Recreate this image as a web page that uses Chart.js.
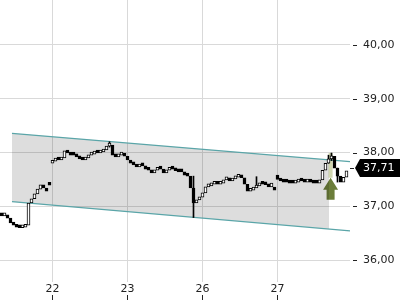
<!DOCTYPE html>
<html>
<head>
<meta charset="utf-8">
<script src="https://cdn.jsdelivr.net/npm/chart.js@4.4.0/dist/chart.umd.min.js"></script>
<style>
html,body{margin:0;padding:0;background:#fff}
</style>
</head>
<body>
<canvas id="chart" width="400" height="300"></canvas>
<script>
// day ticks (candle index where each day starts)
const dayLabels = ['22', '23', '26', '27']
const dayStart = [17, 42, 67, 92]
const yTicks = [36, 37, 38, 39, 40]

// candle opens / closes, one entry per candle (21st afternoon -> 27th)
const opens = [
  36.86, 36.82, 36.84, 36.78, 36.69, 36.65, 36.61, 36.60, 36.61, 36.65, 37.06, 37.14, 37.23, 37.32, 37.40, 37.34, 37.39,
  37.80, 37.84, 37.86, 37.86, 37.90, 38.03, 37.99, 37.95, 37.95, 37.92, 37.88, 37.86, 37.90, 37.95, 37.97, 37.99, 37.99, 38.01, 38.05, 38.12, 38.14, 37.95, 37.92, 37.95, 37.99,
  37.93, 37.86, 37.80, 37.77, 37.73, 37.75, 37.75, 37.69, 37.67, 37.62, 37.67, 37.71, 37.69, 37.62, 37.67, 37.69, 37.69, 37.66, 37.64, 37.64, 37.58, 37.56, 37.34, 37.06, 37.12,
  37.17, 37.25, 37.36, 37.38, 37.41, 37.45, 37.41, 37.43, 37.49, 37.53, 37.47, 37.51, 37.54, 37.56, 37.53, 37.41, 37.28, 37.30, 37.34, 37.38, 37.41, 37.41, 37.40, 37.36, 37.30,
  37.58, 37.50, 37.47, 37.45, 37.45, 37.43, 37.43, 37.45, 37.49, 37.47, 37.45, 37.47, 37.45, 37.43, 37.43, 37.49, 37.67, 37.80, 37.88, 37.93, 37.71, 37.56, 37.45, 37.54
]
const closes = [
  36.82, 36.84, 36.78, 36.69, 36.65, 36.61, 36.60, 36.61, 36.65, 37.06, 37.14, 37.23, 37.32, 37.40, 37.34, 37.28, 37.39,
  37.84, 37.86, 37.86, 37.90, 38.03, 37.99, 37.95, 37.95, 37.92, 37.88, 37.86, 37.90, 37.95, 37.97, 37.99, 37.99, 38.01, 38.05, 38.12, 38.14, 37.95, 37.92, 37.95, 37.99, 37.93,
  37.86, 37.80, 37.77, 37.73, 37.75, 37.75, 37.69, 37.67, 37.62, 37.67, 37.71, 37.69, 37.62, 37.67, 37.69, 37.69, 37.66, 37.64, 37.64, 37.58, 37.56, 37.34, 37.06, 37.12, 37.17,
  37.25, 37.36, 37.38, 37.41, 37.45, 37.41, 37.43, 37.49, 37.53, 37.47, 37.51, 37.54, 37.56, 37.53, 37.41, 37.28, 37.30, 37.34, 37.38, 37.41, 37.41, 37.40, 37.36, 37.43, 37.30,
  37.50, 37.47, 37.45, 37.45, 37.43, 37.43, 37.45, 37.49, 37.47, 37.45, 37.47, 37.45, 37.43, 37.43, 37.49, 37.67, 37.80, 37.88, 37.93, 37.71, 37.56, 37.45, 37.54, 37.66
]
// the visible wicks only
const wickIdx = [36, 64, 85, 109, 110, 112]
const wickLow = [38.10, 36.79, 37.36, 37.80, 37.85, 37.45]
const wickHigh = [38.20, 37.56, 37.55, 37.95, 37.99, 37.71]

// trend channel
const channelX = [3.5, 116.17]
const channelTop = [38.357, 37.831]
const channelBottom = [37.085, 36.543]
const shadeX = [3.5, 109.17]
const shadeTop = [38.357, 37.864]
const shadeBottom = [37.085, 36.577]

const lastPrice = 37.71
const arrowX = 109.7
const arrowTop = 37.53
const arrowBottom = 37.12
const arrowHighlightTop = 37.99

const pts = (xs, ys) => xs.map((x, k) => ({ x: x, y: ys[k] }))
const fmt = v => v.toFixed(2).replace('.', ',')
const FONT = 'DejaVu Sans'

const extras = {
  id: 'extras',
  beforeDatasetsDraw(chart) {
    const c = chart.ctx, xs = chart.scales.x, ys = chart.scales.y
    const cx = xs.getPixelForValue(arrowX)
    const tip = ys.getPixelForValue(arrowTop)
    const base = ys.getPixelForValue(arrowBottom)
    c.save()
    c.fillStyle = 'rgba(150,165,80,0.45)'
    const hy = ys.getPixelForValue(arrowHighlightTop)
    c.fillRect(cx - 2, hy, 4, tip - hy)
    c.fillStyle = '#6b7d3a'
    c.beginPath()
    c.moveTo(cx, tip)
    c.lineTo(cx + 7.5, tip + 12)
    c.lineTo(cx + 4, tip + 12)
    c.lineTo(cx + 4, base)
    c.lineTo(cx - 4, base)
    c.lineTo(cx - 4, tip + 12)
    c.lineTo(cx - 7.5, tip + 12)
    c.closePath()
    c.fill()
    c.restore()
  },
  afterDraw(chart) {
    const c = chart.ctx, xs = chart.scales.x, ys = chart.scales.y, area = chart.chartArea
    c.save()
    c.strokeStyle = '#222'
    c.lineWidth = 1
    yTicks.forEach(v => {
      const y = Math.round(ys.getPixelForValue(v)) + 0.5
      c.beginPath(); c.moveTo(area.right + 3, y); c.lineTo(area.right + 7, y); c.stroke()
    })
    dayStart.forEach(i => {
      const x = Math.round(xs.getPixelForValue(i)) + 0.5
      c.beginPath(); c.moveTo(x, chart.height - 5); c.lineTo(x, chart.height); c.stroke()
    })
    // last price tag
    const y = ys.getPixelForValue(lastPrice)
    const yy = Math.round(y) + 0.5
    c.beginPath(); c.moveTo(area.right, yy); c.lineTo(area.right + 4, yy); c.stroke()
    c.fillStyle = '#000'
    c.beginPath()
    c.moveTo(area.right + 5, y)
    c.lineTo(area.right + 10, y - 9)
    c.lineTo(chart.width, y - 9)
    c.lineTo(chart.width, y + 9)
    c.lineTo(area.right + 10, y + 9)
    c.closePath()
    c.fill()
    c.fillStyle = '#fff'
    c.font = '11px "' + FONT + '"'
    c.textAlign = 'left'
    c.textBaseline = 'middle'
    c.fillText(fmt(lastPrice), area.right + 13, y + 0.5)
    c.restore()
  }
}

const ctx = document.getElementById('chart').getContext('2d')
const myChart = new Chart(ctx, {
  type: 'bar',
  data: {
    datasets: [{
      type: 'bar',
      data: closes.map((c, i) => ({ x: i, y: [opens[i], c] })),
      backgroundColor: cx => closes[cx.dataIndex] > opens[cx.dataIndex] ? '#fff' : '#000',
      borderColor: '#000',
      borderWidth: 1,
      borderSkipped: false,
      barThickness: 3,
      minBarLength: 3,
      grouped: false,
      order: 0
    }, {
      type: 'bar',
      data: wickIdx.map((x, k) => ({ x: x, y: [wickLow[k], wickHigh[k]] })),
      backgroundColor: '#000',
      borderWidth: 0,
      barThickness: 1,
      grouped: false,
      order: 1
    }, {
      type: 'line',
      data: pts(channelX, channelTop),
      borderColor: '#5aa5a8',
      borderWidth: 1.2,
      pointRadius: 0,
      order: 2
    }, {
      type: 'line',
      data: pts(channelX, channelBottom),
      borderColor: '#5aa5a8',
      borderWidth: 1.2,
      pointRadius: 0,
      order: 2
    }, {
      type: 'line',
      data: pts(shadeX, shadeTop),
      borderWidth: 0,
      pointRadius: 0,
      fill: '+1',
      backgroundColor: 'rgba(0,0,0,0.135)',
      order: 3
    }, {
      type: 'line',
      data: pts(shadeX, shadeBottom),
      borderWidth: 0,
      pointRadius: 0,
      fill: false,
      order: 3
    }]
  },
  options: {
    responsive: false,
    animation: false,
    layout: { padding: 0 },
    plugins: { legend: { display: false }, tooltip: { enabled: false } },
    scales: {
      x: {
        type: 'linear',
        min: -0.5,
        max: 116.17,
        offset: false,
        grid: { color: '#d9d9d9', drawTicks: false, offset: false },
        border: { display: false },
        afterBuildTicks: s => { s.ticks = dayStart.map(v => ({ value: v })) },
        afterFit: s => { s.height = 18; s.paddingLeft = 0; s.paddingRight = 0 },
        ticks: {
          autoSkip: false,
          maxRotation: 0,
          padding: 1,
          color: '#222',
          font: { family: FONT, size: 11 },
          callback: v => dayLabels[dayStart.indexOf(v)]
        }
      },
      y: {
        position: 'right',
        min: 35.591,
        max: 40.837,
        grid: { color: '#d9d9d9', drawTicks: false },
        border: { display: false },
        afterBuildTicks: s => { s.ticks = yTicks.map(v => ({ value: v })) },
        afterFit: s => { s.width = 50; s.paddingTop = 0; s.paddingBottom = 0 },
        ticks: {
          padding: 13,
          color: '#222',
          font: { family: FONT, size: 11 },
          callback: v => fmt(v)
        }
      }
    }
  },
  plugins: [extras]
})
</script>
</body>
</html>
